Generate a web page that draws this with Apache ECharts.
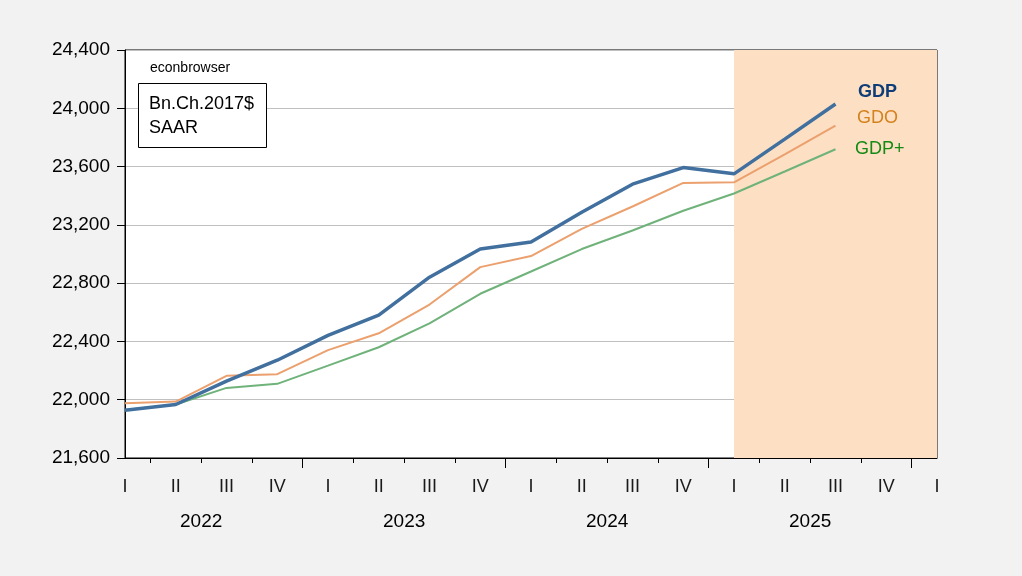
<!DOCTYPE html>
<html>
<head>
<meta charset="utf-8">
<script src="https://cdn.jsdelivr.net/npm/echarts@6/dist/echarts.min.js"></script>
<style>
html,body{margin:0;padding:0;background:#f2f2f2;}
#chart{width:1022px;height:576px;}
</style>
</head>
<body>
<div id="chart"></div>
<script>
// Quarter positions: 0 = 2022Q1 ... 16 = 2026Q1
const quarterLabels = ['I','II','III','IV','I','II','III','IV','I','II','III','IV','I','II','III','IV','I'];
const yearLabels = ['2022','2023','2024','2025'];
const yearCenters = [1.5, 5.5, 9.5, 13.5];
const gdp     = [21927, 21967, 22127, 22271, 22442, 22580, 22841, 23034, 23083, 23286, 23479, 23593, 23550, 23788, 24029];
const gdo     = [21975, 21987, 22164, 22175, 22340, 22456, 22653, 22910, 22986, 23172, 23326, 23488, 23492, 23684, 23881];
const gdpPlus = [21930, 21967, 22081, 22109, 22234, 22360, 22524, 22727, 22880, 23034, 23161, 23297, 23415, 23566, 23719];
const shadeStart = 12, shadeEnd = 16;

const minorTicks = [], majorTicks = [];
for (let i = 0; i < 16; i++) {
  const t = i + 0.5;
  if (i % 4 === 3) majorTicks.push(t); else minorTicks.push(t);
}
const labelPos = quarterLabels.map((_, i) => i);
const toPairs = arr => arr.map((v, i) => [i, v]);
const FONT = 'Liberation Sans, Arial, sans-serif';

const chart = echarts.init(document.getElementById('chart'));
chart.setOption({
  animation: false,
  backgroundColor: '#f2f2f2',
  grid: {left: 125, right: 85, top: 50, bottom: 118, show: true, backgroundColor: '#ffffff', borderColor: '#000', borderWidth: 1},
  xAxis: [
    {type: 'value', min: 0, max: 16, position: 'bottom',
      axisLine: {show: true, onZero: false, lineStyle: {color: '#000', width: 1}},
      splitLine: {show: false},
      axisTick: {show: true, length: 5, customValues: minorTicks, lineStyle: {color: '#000'}},
      axisLabel: {customValues: labelPos, formatter: v => quarterLabels[Math.round(v)], margin: 20,
        color: '#1a1a1a', fontSize: 18, fontFamily: FONT}
    },
    {type: 'value', min: 0, max: 16, position: 'bottom',
      axisLine: {show: false, onZero: false},
      splitLine: {show: false},
      axisTick: {show: true, length: 10, customValues: majorTicks, lineStyle: {color: '#000'}},
      axisLabel: {customValues: yearCenters, formatter: v => yearLabels[yearCenters.indexOf(v)], margin: 54,
        color: '#000', fontSize: 19, fontFamily: FONT}
    }
  ],
  yAxis: {type: 'value', min: 21600, max: 24400, interval: 400,
    axisLine: {show: true, lineStyle: {color: '#000'}},
    axisTick: {show: true, length: 8, lineStyle: {color: '#000'}},
    splitLine: {show: true, lineStyle: {color: '#c0c0c0', width: 1}},
    axisLabel: {formatter: v => v.toLocaleString('en-US'), color: '#000', fontSize: 19, fontFamily: FONT, margin: 15}
  },
  series: [
    {name: 'GDP+', type: 'line', data: toPairs(gdpPlus), symbol: 'none', z: 3,
      lineStyle: {color: '#6fb27a', width: 2},
      markArea: {silent: true, itemStyle: {color: '#fde0c4'}, data: [[{xAxis: shadeStart}, {xAxis: shadeEnd}]]}
    },
    {name: 'GDO', type: 'line', data: toPairs(gdo), symbol: 'none', z: 4,
      lineStyle: {color: '#eba06e', width: 2}},
    {name: 'GDP', type: 'line', data: toPairs(gdp), symbol: 'none', z: 5,
      lineStyle: {color: '#41709f', width: 3.5}}
  ],
  graphic: [
    {type: 'text', left: 150, top: 61, style: {text: 'econbrowser', font: '14px ' + FONT, fill: '#000'}},
    {type: 'rect', left: 138, top: 83, shape: {width: 128, height: 64}, style: {fill: '#fff', stroke: '#000', lineWidth: 1}, z: 10},
    {type: 'text', left: 149, top: 92, z: 11, style: {text: 'Bn.Ch.2017$\nSAAR', font: '18px ' + FONT, lineHeight: 24, fill: '#000'}},
    {type: 'text', left: 858, top: 83, z: 11, style: {text: 'GDP', font: 'bold 18px ' + FONT, fill: '#0f3d78'}},
    {type: 'text', left: 857, top: 109, z: 11, style: {text: 'GDO', font: '18px ' + FONT, fill: '#d4821e'}},
    {type: 'text', left: 855, top: 140, z: 11, style: {text: 'GDP+', font: '18px ' + FONT, fill: '#148a14'}}
  ]
});
</script>
</body>
</html>
